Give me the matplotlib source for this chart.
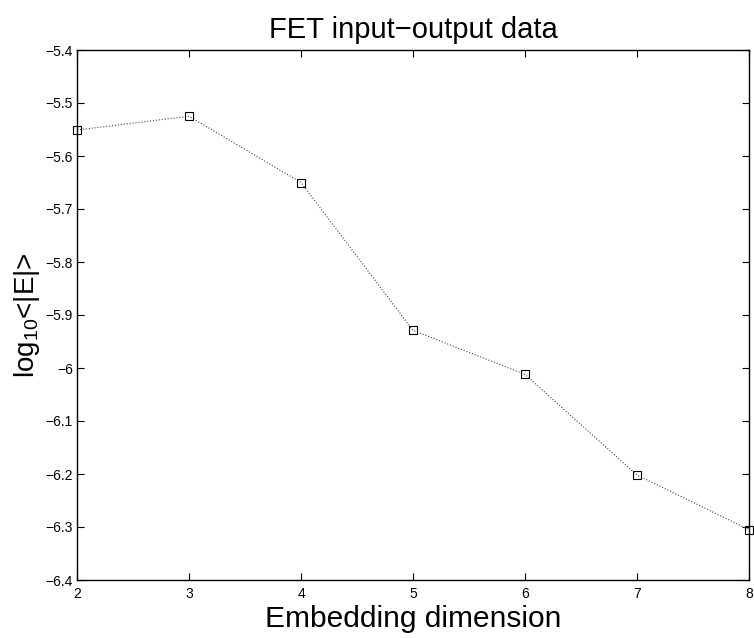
import matplotlib

matplotlib.use("Agg")
import matplotlib.pyplot as plt

# values
dims = [2, 3, 4, 5, 6, 7, 8]
log_err = [-5.551, -5.525, -5.650, -5.929, -6.012, -6.202, -6.305]
y_ticks = [-5.4, -5.5, -5.6, -5.7, -5.8, -5.9, -6.0, -6.1, -6.2, -6.3, -6.4]
y_tick_labels = ["\u22125.4", "\u22125.5", "\u22125.6", "\u22125.7", "\u22125.8", "\u22125.9",
                 "\u22126", "\u22126.1", "\u22126.2", "\u22126.3", "\u22126.4"]

plt.rcParams["font.family"] = ["Liberation Sans", "DejaVu Sans"]
plt.rcParams["mathtext.fontset"] = "custom"
plt.rcParams["mathtext.rm"] = "Liberation Sans"

fig = plt.figure(figsize=(7.54, 6.38), dpi=100)
ax = fig.add_axes([77 / 754, 58 / 638, 672 / 754, 530 / 638])

ax.plot(dims, log_err, color="#444444", linestyle=":", linewidth=0.8,
        marker="s", markersize=5.5, markerfacecolor="none",
        markeredgecolor="black", markeredgewidth=0.8, clip_on=False)

ax.set_xlim(2, 8)
ax.set_ylim(-6.4, -5.4)
ax.set_xticks(dims)
ax.set_yticks(y_ticks)
ax.set_yticklabels(y_tick_labels)
ax.tick_params(direction="in", top=True, right=True, length=5, width=0.8,
               labelsize=10)
ax.tick_params(axis="x", pad=5)
ax.tick_params(axis="y", pad=3)
for s in ax.spines.values():
    s.set_linewidth(1.0)

ax.set_title("FET input\u2212output data", fontsize=21, pad=9)
ax.set_xlabel("Embedding dimension", fontsize=21.5, labelpad=3)
# the reference label sits over the tick labels, as MATLAB drew it
ax.set_ylabel(r"$\mathregular{log_{10}}$<|E|>", fontsize=20)
ax.yaxis.set_label_coords(-35 / 672, 0.5)

fig.savefig("out.png", dpi=100)
